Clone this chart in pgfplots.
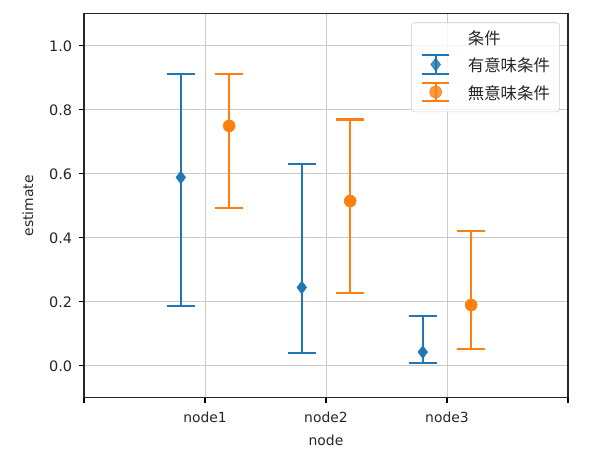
\documentclass[border=0pt]{standalone}
\usepackage{fontspec}
\setmainfont{DejaVu Sans}
\newfontfamily\cjk{Noto Sans CJK JP}
\usepackage{pgfplots}
\pgfplotsset{compat=1.18}
\definecolor{tabblue}{HTML}{1F77B4}
\definecolor{taborange}{HTML}{FF7F0E}
\begin{document}
\begin{tikzpicture}
\useasboundingbox (-60.5pt,-49.7pt) rectangle (365.1pt,286.5pt);
\begin{axis}[
  at={(0,0)}, anchor=south west,
  scale only axis, width=348.5pt, height=276.5pt,
  xmin=0, xmax=4, ymin=-0.1, ymax=1.1,
  xtick={0,1,2,3,4}, xticklabels={,node1,node2,node3,},
  ytick={0,0.2,0.4,0.6,0.8,1.0},
  yticklabel style={/pgf/number format/fixed,/pgf/number format/fixed zerofill,/pgf/number format/precision=1,
    font=\fontsize{10.4}{12}\selectfont, xshift=-1.5pt},
  /pgf/number format/assume math mode=true,
  tick pos=left, tick align=outside,
  major tick length=3.5pt,
  tick style={black, line width=0.8pt},
  axis line style={line width=0.8pt, black!85},
  grid=major,
  grid style={line width=0.6pt, color=black!20},
  font=\fontsize{10}{12}\selectfont,
  ticklabel style={text=black!85},
  xticklabel style={font=\fontsize{10}{12}\selectfont, yshift=-3pt},
  xlabel={node}, ylabel={estimate},
  every axis x label/.style={at={(axis description cs:0.5,0)}, anchor=center, yshift=-30.5pt, text=black!85},
  every axis y label/.style={at={(axis description cs:0,0.5)}, anchor=center, xshift=-40.3pt, rotate=90, text=black!85},
  legend style={at={(1,1)}, anchor=north east, xshift=-5.8pt, yshift=-6.2pt,
    draw=black!20, rounded corners=2pt, fill=white, fill opacity=0.8, text opacity=1,
    font=\cjk\fontsize{11.8}{13}\selectfont, cells={anchor=west}, text=black!85,
    row sep=2.5pt, column sep=12.7pt, inner xsep=7pt, inner ysep=4.5pt,
    nodes={text height=9pt, text depth=2.5pt, inner xsep=0pt, inner ysep=2pt}},
  legend cell align=left,
]
\addlegendimage{empty legend}
\addlegendentry{条件}
\addplot[tabblue, only marks, mark=diamond*, mark size=4.6pt, mark options={tabblue},
  error bars/.cd, y dir=both, y explicit, error mark=|,
  error bar style={line width=1.5pt, tabblue},
  error mark options={mark size=10pt, line width=1.5pt, tabblue}]
  coordinates {
  (0.8,0.589) += (0,0.324) -= (0,0.403)
  (1.8,0.245) += (0,0.385) -= (0,0.206)
  (2.8,0.043) += (0,0.113) -= (0,0.035)
  };
\addplot[taborange, only marks, mark=*, mark size=4.3pt, mark options={taborange},
  error bars/.cd, y dir=both, y explicit, error mark=|,
  error bar style={line width=1.5pt, taborange},
  error mark options={mark size=10pt, line width=1.5pt, taborange}]
  coordinates {
  (1.2,0.750) += (0,0.163) -= (0,0.258)
  (2.2,0.515) += (0,0.255) -= (0,0.287)
  (3.2,0.190) += (0,0.232) -= (0,0.136)
  };
\pgfplotsset{
  legend image code/.code={
    \draw[#1, mark=none, line width=1.5pt] (9.8pt,-4.8pt) -- (9.8pt,8.8pt);
    \draw[#1, mark=none, line width=1.5pt] (0pt,-4.8pt) -- (19.6pt,-4.8pt) (0pt,8.8pt) -- (19.6pt,8.8pt);
    \draw[#1] plot coordinates {(9.8pt,2pt)};
  }
}
\addlegendimage{tabblue, mark=diamond*, mark size=4.6pt}
\addlegendentry{有意味条件}
\addlegendimage{taborange, mark=*, mark size=4.3pt}
\addlegendentry{無意味条件}
\end{axis}
\end{tikzpicture}
\end{document}
